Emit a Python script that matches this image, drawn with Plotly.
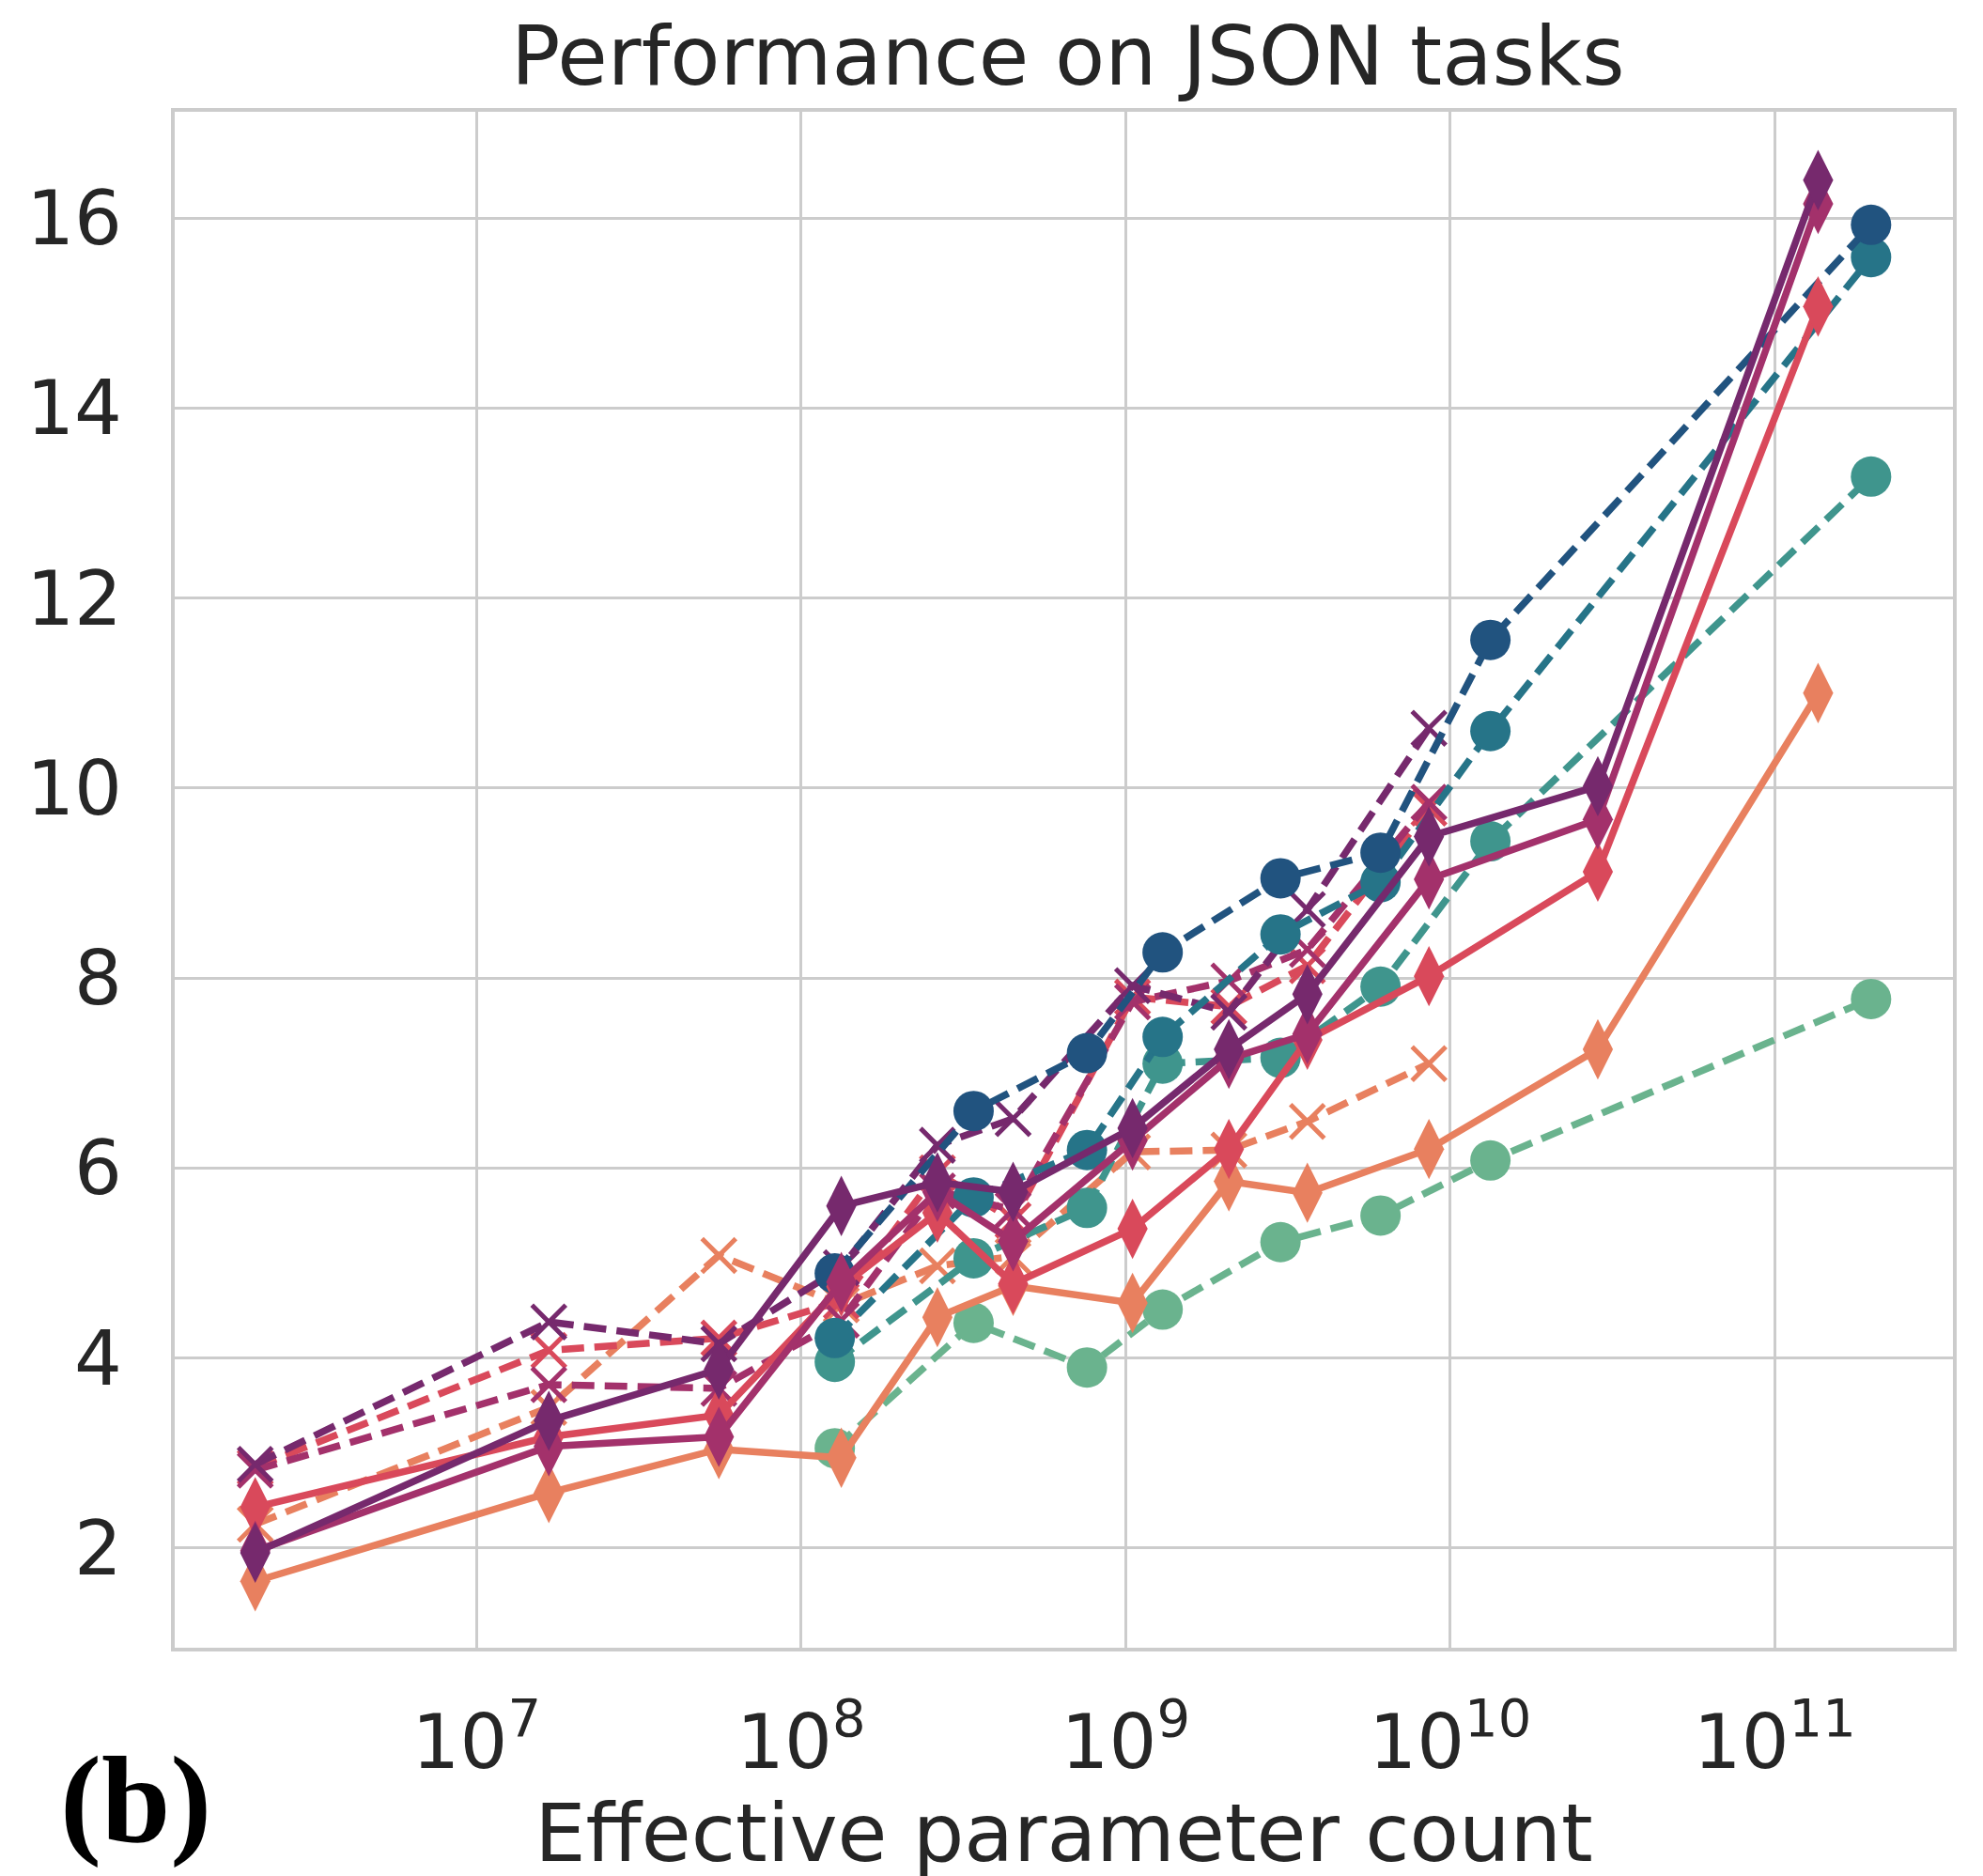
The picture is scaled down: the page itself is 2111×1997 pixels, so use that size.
import plotly.graph_objects as go

# ---------------- data ----------------
dense_x = [2.08e6, 1.67e7, 5.58e7, 1.33e8, 2.63e8, 4.5e8, 1.05e9, 2.08e9, 3.63e9, 8.6e9, 2.85e10, 1.36e11]
sparse_x = [2.08e6, 1.67e7, 5.58e7, 1.33e8, 2.63e8, 4.5e8, 1.05e9, 2.08e9, 3.63e9, 8.6e9]
gpt_x = [1.27e8, 3.4e8, 7.6e8, 1.3e9, 3.0e9, 6.1e9, 1.33e10, 1.98e11]

dense_0shot = [1.65, 2.58, 3.04, 2.95, 4.43, 4.76, 4.58, 5.86, 5.74, 6.20, 7.25, 11.00]
dense_1shot = [2.43, 3.17, 3.40, 4.75, 5.53, 4.78, 5.36, 6.20, 7.35, 8.02, 9.12, 15.07]
dense_2shot = [1.97, 3.07, 3.17, 4.80, 5.75, 5.23, 6.29, 7.15, 7.41, 9.04, 9.67, 16.15]
dense_3shot = [1.95, 3.34, 3.88, 5.60, 5.85, 5.75, 6.42, 7.25, 7.83, 9.49, 10.02, 16.40]

sparse_0shot = [2.25, 3.48, 5.08, 4.56, 4.97, 5.07, 6.17, 6.19, 6.49, 7.10]
sparse_1shot = [2.85, 4.08, 4.21, 4.60, 5.95, 5.45, 7.80, 7.70, 8.13, 9.79]
sparse_2shot = [2.82, 3.72, 3.68, 4.40, 5.76, 5.56, 7.75, 7.97, 8.30, 9.85]
sparse_3shot = [2.88, 4.38, 4.15, 4.95, 6.24, 6.52, 7.92, 7.64, 8.72, 10.63]

gpt_0shot = [3.05, 4.37, 3.90, 4.51, 5.22, 5.50, 6.08, 7.78]
gpt_1shot = [3.96, 5.05, 5.58, 7.10, 7.16, 7.91, 9.44, 13.28]
gpt_2shot = [4.21, 5.69, 6.19, 7.38, 8.46, 9.01, 10.60, 15.59]
gpt_3shot = [4.89, 6.60, 7.21, 8.27, 9.05, 9.32, 11.56, 15.93]

y_ticks = [2, 4, 6, 8, 10, 12, 14, 16]
x_ticks = [1e7, 1e8, 1e9, 1e10, 1e11]
x_tick_labels = ["10<sup>7</sup>", "10<sup>8</sup>", "10<sup>9</sup>", "10<sup>10</sup>", "10<sup>11</sup>"]

title_text = "Performance on JSON tasks"
x_title = "Effective parameter count"
panel_label = "(b)"

# ---------------- style ----------------
dense_colors = ["#e8805f", "#d9495b", "#a3316b", "#76296d"]
gpt_colors = ["#6ab38e", "#3f958d", "#267488", "#21537f"]
TEXT = "#262626"
GRID = "#cccccc"
LW = 7.5
DASH = "24px,11px"

fig = go.Figure()

for ys, c in zip([sparse_0shot, sparse_1shot, sparse_2shot, sparse_3shot], dense_colors):
    fig.add_trace(go.Scatter(
        x=sparse_x, y=ys, mode="lines+markers",
        line=dict(color=c, width=LW, dash=DASH),
        marker=dict(symbol="x-thin", size=36, color=c, line=dict(color=c, width=5)),
        showlegend=False))

for ys, c in zip([gpt_0shot, gpt_1shot, gpt_2shot, gpt_3shot], gpt_colors):
    fig.add_trace(go.Scatter(
        x=gpt_x, y=ys, mode="lines+markers",
        line=dict(color=c, width=LW, dash=DASH),
        marker=dict(symbol="circle", size=43, color=c, line=dict(width=0)),
        showlegend=False))

for ys, c in zip([dense_0shot, dense_1shot, dense_2shot, dense_3shot], dense_colors):
    fig.add_trace(go.Scatter(
        x=dense_x, y=ys, mode="lines+markers",
        line=dict(color=c, width=LW),
        marker=dict(symbol="diamond-tall", size=46, color=c, line=dict(width=0)),
        showlegend=False))

fig.update_layout(
    width=2111, height=1997,
    margin=dict(l=178, r=40, t=111, b=251),
    paper_bgcolor="white", plot_bgcolor="white",
    font=dict(family="DejaVu Sans", color=TEXT, size=80),
    title=dict(text=title_text, x=0.5347, xanchor="center", y=0.974, yanchor="middle",
               font=dict(size=87, color=TEXT)),
)

fig.update_xaxes(
    type="log", range=[6.07, 11.549],
    tickvals=x_ticks, ticktext=x_tick_labels,
    tickfont=dict(size=80, color=TEXT),
    showgrid=True, gridcolor=GRID, gridwidth=3,
    showline=True, linecolor=GRID, linewidth=4, mirror=True,
    ticks="", ticklabelstandoff=28,
    zeroline=False,
    title=dict(text=x_title, font=dict(size=86, color=TEXT), standoff=0),
)
fig.update_yaxes(
    range=[0.95, 17.12],
    tickvals=y_ticks,
    tickfont=dict(size=80, color=TEXT),
    showgrid=True, gridcolor=GRID, gridwidth=3,
    showline=True, linecolor=GRID, linewidth=4, mirror=True,
    ticks="", ticklabelstandoff=36,
    zeroline=False,
)

fig.add_annotation(
    text="<b>" + panel_label + "</b>", xref="paper", yref="paper",
    x=-0.022, y=-0.099, xanchor="center", yanchor="middle", showarrow=False,
    font=dict(family="Liberation Serif", size=132, color="black"),
)

fig.write_html("out.html")
